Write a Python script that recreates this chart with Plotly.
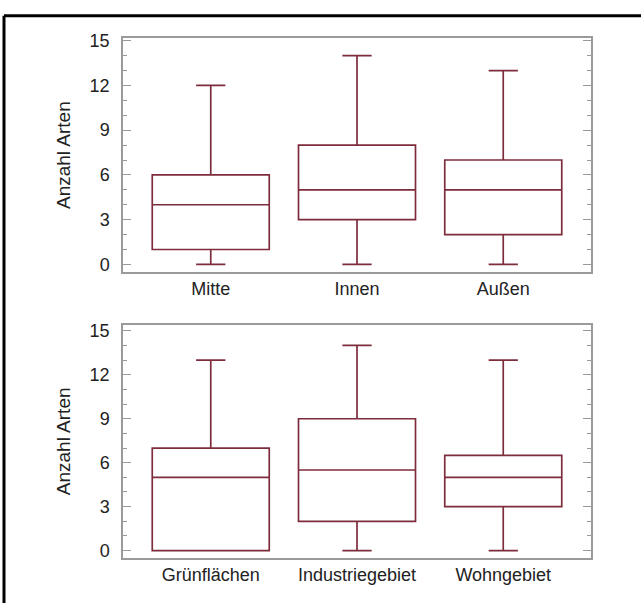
import plotly.graph_objects as go
from plotly.subplots import make_subplots

# Top panel: location
cats_top = ["Mitte", "Innen", "Außen"]
min_top = [0, 0, 0]
q1_top = [1, 3, 2]
med_top = [4, 5, 5]
q3_top = [6, 8, 7]
max_top = [12, 14, 13]

# Bottom panel: land use
cats_bot = ["Grünflächen", "Industriegebiet", "Wohngebiet"]
min_bot = [0, 0, 0]
q1_bot = [0, 2, 3]
med_bot = [5, 5.5, 5]
q3_bot = [7, 9, 6.5]
max_bot = [13, 14, 13]

y_ticks = [0, 3, 6, 9, 12, 15]
y_title = "Anzahl Arten"

W, H = 641, 606
LINE = "#7d2c3c"
AXIS = "#9a9a9a"
FONT = "Liberation Sans, Arial, sans-serif"

fig = make_subplots(rows=2, cols=1)

def add_box(cats, lo, q1, med, q3, hi, row):
    fig.add_trace(go.Box(
        x=cats, q1=q1, median=med, q3=q3, lowerfence=lo, upperfence=hi,
        fillcolor="white", line=dict(color=LINE, width=1.7),
        width=0.8, whiskerwidth=0.25, boxpoints=False, showlegend=False,
        hoverinfo="skip"), row=row, col=1)

add_box(cats_top, min_top, q1_top, med_top, q3_top, max_top, 1)
add_box(cats_bot, min_bot, q1_bot, med_bot, q3_bot, max_bot, 2)

xdom = [123 / W, 591 / W]
top_dom = [1 - 269 / H, 1 - 32 / H]
bot_dom = [1 - 560 / H, 1 - 323 / H]

common_x = dict(showline=True, linecolor=AXIS, linewidth=1.5, mirror=True,
                ticks="", showgrid=False, zeroline=False, range=[-0.6, 2.6],
                tickfont=dict(family=FONT, size=18, color="#222"))
common_y = dict(showline=True, linecolor=AXIS, linewidth=1.5, mirror="ticks",
                ticks="inside", ticklen=8, tickcolor=AXIS, tickwidth=1.2,
                tickvals=y_ticks, showgrid=False, zeroline=False,
                ticklabelstandoff=8,
                minor=dict(dtick=1, ticks="inside", ticklen=4, tickcolor=AXIS,
                           tickwidth=1, showgrid=False),
                tickfont=dict(family=FONT, size=18, color="#222"))

fig.update_xaxes(domain=xdom, **common_x)
fig.update_yaxes(**common_y)
fig.update_yaxes(domain=top_dom, range=[-0.48, 15.15], row=1, col=1)
fig.update_yaxes(domain=bot_dom, range=[-0.49, 15.42], row=2, col=1)

for yc in [(top_dom[0] + top_dom[1]) / 2, (bot_dom[0] + bot_dom[1]) / 2]:
    fig.add_annotation(text=y_title, xref="paper", yref="paper",
                       x=63 / W, y=yc, textangle=-90, showarrow=False,
                       xanchor="center", yanchor="middle",
                       font=dict(family=FONT, size=19, color="#222"))

fx = 4 / W
fy = 1 - 9 / H
fig.add_shape(type="line", xref="paper", yref="paper", x0=fx, y0=0, x1=fx, y1=fy,
              line=dict(color="black", width=3))
fig.add_shape(type="line", xref="paper", yref="paper", x0=fx, y0=fy, x1=1, y1=fy,
              line=dict(color="black", width=3))

fig.update_layout(width=W, height=H, margin=dict(l=0, r=0, t=0, b=0),
                  paper_bgcolor="white", plot_bgcolor="white",
                  font=dict(family=FONT))

fig.write_html("out.html",
               config={"displayModeBar": False},
               post_script="document.body.style.margin='0px';"
                           "document.body.style.padding='0px';"
                           "document.body.style.overflow='hidden';")
